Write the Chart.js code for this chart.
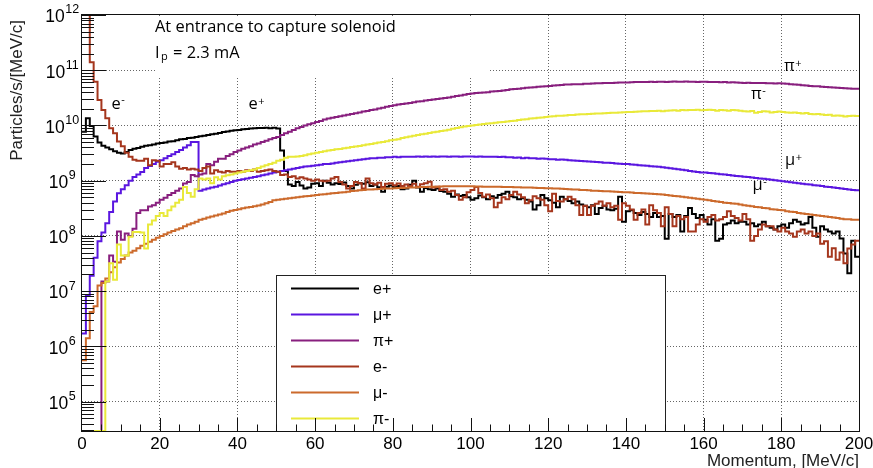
<!DOCTYPE html>
<html>
<head>
<meta charset="utf-8">
<script src="https://cdn.jsdelivr.net/npm/chart.js@4.4.1/dist/chart.umd.min.js"></script>
<style>
  html, body { margin: 0; padding: 0; background: #fff; }
</style>
</head>
<body>
<canvas id="c" width="873" height="468"></canvas>
<script>
// momentum spectra, 1 MeV/c bins from 0 to 200 (bin i covers [i, i+1])
const labels = ['e+', 'μ+', 'π+', 'e-', 'μ-', 'π-'];
const colors = ['#000000', '#5a16e0', '#881f7e', '#a5361d', '#cc6a2c', '#e9e93a'];

const ePlus = [
  7.7e9, 1.35e10, 9.8e9, 6.3e9, 4.9e9, 4.3e9, 4.0e9, 3.7e9, 3.4e9, 3.2e9,
  3.1e9, 3.3e9, 3.6e9, 3.8e9, 3.9e9, 4.1e9, 4.3e9, 4.4e9, 4.5e9, 4.7e9,
  4.8e9, 4.9e9, 5.1e9, 5.2e9, 5.4e9, 5.6e9, 5.7e9, 5.9e9, 6.0e9, 6.2e9,
  6.4e9, 6.5e9, 6.7e9, 6.9e9, 7.1e9, 7.3e9, 7.6e9, 7.8e9, 8.0e9, 8.2e9,
  8.3e9, 8.5e9, 8.6e9, 8.8e9, 8.9e9, 9.0e9, 9.0e9, 9.1e9, 8.9e9, 9.1e9,
  8.8e9, 3.5e9, 1.5e9, 8.5e8, 8.0e8, 9.5e8, 8.2e8, 7.2e8, 7.5e8, 8.8e8,
  9.0e8, 8.0e8, 1.0e9, 9.2e8, 8.5e8, 9.0e8, 8.7e8, 9.3e8, 8.0e8, 7.2e8,
  8.4e8, 9.0e8, 8.8e8, 9.4e8, 8.0e8, 8.5e8, 7.6e8, 6.3e8, 7.8e8, 8.2e8,
  7.6e8, 8.0e8, 7.0e8, 7.2e8, 8.4e8, 1.0e9, 7.5e8, 6.3e8, 7.4e8, 7.0e8,
  6.8e8, 7.2e8, 6.5e8, 6.3e8, 5.8e8, 5.1e8, 5.6e8, 5.3e8, 5.5e8, 5.0e8,
  4.5e8, 4.8e8, 5.4e8, 5.0e8, 4.6e8, 5.2e8, 4.9e8, 5.5e8, 5.8e8, 6.3e8,
  5.2e8, 5.0e8, 4.6e8, 4.8e8, 4.5e8, 4.2e8, 3.0e8, 3.6e8, 5.5e8, 4.8e8,
  4.4e8, 4.0e8, 3.3e8, 5.1e8, 4.6e8, 4.3e8, 3.9e8, 4.2e8, 3.7e8, 3.5e8,
  3.3e8, 3.6e8, 2.5e8, 3.2e8, 3.5e8, 3.0e8, 2.9e8, 3.1e8, 5.1e8, 1.8e8,
  2.8e8, 2.9e8, 2.6e8, 2.4e8, 2.7e8, 2.5e8, 2.2e8, 2.6e8, 2.2e8, 2.3e8,
  8.9e7, 2.5e8, 2.2e8, 2.4e8, 1.2e8, 2.3e8, 3.2e8, 2.5e8, 2.1e8, 2.4e8,
  1.95e8, 1.6e8, 2.0e8, 8.2e7, 8.9e7, 1.6e8, 1.7e8, 1.9e8, 1.7e8, 1.8e8,
  1.8e8, 1.6e8, 1.7e8, 1.5e8, 1.6e8, 1.8e8, 1.5e8, 1.4e8, 1.3e8, 1.5e8,
  1.6e8, 1.4e8, 1.7e8, 1.95e8, 1.8e8, 1.6e8, 1.7e8, 2.2e8, 1.4e8, 9.6e7,
  1.5e8, 1.3e8, 1.2e8, 1.1e8, 1.2e8, 9.0e7, 4.8e7, 2.1e7, 8.2e7, 4.2e7
];

const muPlus = [
  1.7e6, 8.5e6, 1.9e7, 4.0e7, 8.0e7, 1.15e8, 1.7e8, 2.7e8, 4.2e8, 5.9e8,
  7.0e8, 8.3e8, 1.0e9, 1.17e9, 1.3e9, 1.44e9, 1.7e9, 1.85e9, 2.0e9, 2.2e9,
  2.35e9, 2.55e9, 2.8e9, 3.0e9, 3.3e9, 3.6e9, 4.0e9, 4.4e9, 5.0e9, 5.0e9,
  6.6e8, 6.9e8, 7.2e8, 7.5e8, 7.8e8, 8.2e8, 8.6e8, 9.0e8, 9.5e8, 1.0e9,
  1.03e9, 1.06e9, 1.1e9, 1.13e9, 1.17e9, 1.2e9, 1.25e9, 1.3e9, 1.35e9, 1.4e9,
  1.45e9, 1.5e9, 1.55e9, 1.6e9, 1.65e9, 1.7e9, 1.75e9, 1.8e9, 1.83e9, 1.87e9,
  1.9e9, 1.95e9, 2.0e9, 2.0e9, 2.05e9, 2.1e9, 2.15e9, 2.2e9, 2.25e9, 2.3e9,
  2.35e9, 2.4e9, 2.45e9, 2.5e9, 2.55e9, 2.55e9, 2.6e9, 2.6e9, 2.65e9, 2.65e9,
  2.7e9, 2.65e9, 2.7e9, 2.7e9, 2.72e9, 2.7e9, 2.75e9, 2.72e9, 2.75e9, 2.7e9,
  2.75e9, 2.72e9, 2.75e9, 2.75e9, 2.7e9, 2.75e9, 2.75e9, 2.72e9, 2.75e9, 2.75e9,
  2.75e9, 2.72e9, 2.75e9, 2.7e9, 2.72e9, 2.7e9, 2.7e9, 2.68e9, 2.7e9, 2.65e9,
  2.65e9, 2.6e9, 2.62e9, 2.55e9, 2.6e9, 2.55e9, 2.55e9, 2.5e9, 2.52e9, 2.5e9,
  2.45e9, 2.45e9, 2.4e9, 2.42e9, 2.38e9, 2.35e9, 2.32e9, 2.3e9, 2.28e9, 2.25e9,
  2.22e9, 2.2e9, 2.17e9, 2.15e9, 2.12e9, 2.1e9, 2.08e9, 2.05e9, 2.02e9, 2.0e9,
  2.0e9, 1.97e9, 1.94e9, 1.91e9, 1.88e9, 1.86e9, 1.83e9, 1.8e9, 1.78e9, 1.75e9,
  1.72e9, 1.68e9, 1.65e9, 1.61e9, 1.58e9, 1.54e9, 1.5e9, 1.47e9, 1.44e9, 1.41e9,
  1.4e9, 1.38e9, 1.36e9, 1.33e9, 1.31e9, 1.29e9, 1.27e9, 1.24e9, 1.22e9, 1.2e9,
  1.18e9, 1.16e9, 1.14e9, 1.12e9, 1.1e9, 1.08e9, 1.06e9, 1.04e9, 1.02e9, 1.0e9,
  9.8e8, 9.6e8, 9.4e8, 9.2e8, 9.0e8, 8.8e8, 8.6e8, 8.5e8, 8.3e8, 8.2e8,
  8.0e8, 7.8e8, 7.7e8, 7.5e8, 7.4e8, 7.2e8, 7.1e8, 6.9e8, 6.8e8, 6.7e8
];

const piPlus = [
  0, 0, 0, 0, 0, 1.5e7, 1.5e7, 4.4e7, 3.4e7, 1.2e8,
  8.5e7, 1.1e8, 1.0e8, 1.35e8, 2.6e8, 2.9e8, 2.9e8, 3.4e8, 3.6e8, 4.0e8,
  4.5e8, 4.9e8, 5.5e8, 6.0e8, 6.6e8, 7.2e8, 8.9e8, 9.5e8, 1.27e9, 1.2e9,
  1.3e9, 1.35e9, 2.0e9, 1.9e9, 2.2e9, 2.5e9, 2.5e9, 2.8e9, 3.0e9, 3.3e9,
  3.5e9, 3.8e9, 4.0e9, 4.2e9, 4.5e9, 4.7e9, 5.0e9, 5.3e9, 5.6e9, 5.9e9,
  6.2e9, 6.7e9, 7.2e9, 7.7e9, 8.3e9, 8.9e9, 9.4e9, 1.0e10, 1.05e10, 1.1e10,
  1.15e10, 1.2e10, 1.28e10, 1.33e10, 1.38e10, 1.42e10, 1.47e10, 1.52e10, 1.57e10, 1.62e10,
  1.67e10, 1.72e10, 1.78e10, 1.83e10, 1.9e10, 1.95e10, 2.02e10, 2.1e10, 2.17e10, 2.25e10,
  2.32e10, 2.4e10, 2.45e10, 2.5e10, 2.55e10, 2.62e10, 2.7e10, 2.75e10, 2.82e10, 2.88e10,
  2.95e10, 3.0e10, 3.08e10, 3.15e10, 3.2e10, 3.3e10, 3.4e10, 3.5e10, 3.6e10, 3.7e10,
  3.8e10, 3.85e10, 3.9e10, 3.95e10, 4.0e10, 4.1e10, 4.15e10, 4.2e10, 4.3e10, 4.4e10,
  4.5e10, 4.55e10, 4.6e10, 4.7e10, 4.8e10, 4.85e10, 4.9e10, 5.0e10, 5.05e10, 5.1e10,
  5.2e10, 5.3e10, 5.35e10, 5.4e10, 5.5e10, 5.5e10, 5.55e10, 5.6e10, 5.6e10, 5.7e10,
  5.7e10, 5.75e10, 5.8e10, 5.8e10, 5.85e10, 5.9e10, 5.9e10, 5.95e10, 6.0e10, 6.0e10,
  6.0e10, 6.05e10, 6.1e10, 6.1e10, 6.1e10, 6.15e10, 6.2e10, 6.1e10, 6.2e10, 6.2e10,
  6.15e10, 6.2e10, 6.25e10, 6.2e10, 6.2e10, 6.25e10, 6.2e10, 6.2e10, 6.15e10, 6.2e10,
  6.2e10, 6.1e10, 6.15e10, 6.1e10, 6.05e10, 6.1e10, 6.0e10, 6.05e10, 6.0e10, 5.95e10,
  5.9e10, 5.95e10, 5.9e10, 5.85e10, 5.9e10, 5.85e10, 5.8e10, 5.8e10, 5.75e10, 5.8e10,
  5.75e10, 5.7e10, 5.6e10, 5.5e10, 5.45e10, 5.35e10, 5.3e10, 5.2e10, 5.15e10, 5.1e10,
  5.0e10, 4.95e10, 4.9e10, 4.85e10, 4.8e10, 4.75e10, 4.7e10, 4.65e10, 4.6e10, 4.6e10
];

const eMinus = [
  2e12, 2e12, 1.4e11, 6.2e10, 2.9e10, 1.9e10, 1.35e10, 8.9e9, 7.2e9, 5.1e9,
  4.2e9, 3.2e9, 2.7e9, 2.4e9, 2.3e9, 2.3e9, 2.5e9, 1.9e9, 2.35e9, 2.3e9,
  1.8e9, 2.0e9, 2.0e9, 2.15e9, 1.8e9, 1.65e9, 1.7e9, 1.6e9, 1.65e9, 1.6e9,
  1.5e9, 1.7e9, 1.8e9, 1.35e9, 1.55e9, 1.45e9, 1.4e9, 1.5e9, 1.45e9, 1.45e9,
  1.5e9, 1.45e9, 1.55e9, 1.5e9, 1.6e9, 1.45e9, 1.5e9, 1.55e9, 1.6e9, 1.5e9,
  1.45e9, 1.27e9, 1.3e9, 1.17e9, 1.2e9, 1.1e9, 1.15e9, 1.1e9, 1.05e9, 1.0e9,
  1.05e9, 1.0e9, 9.8e8, 1.0e9, 1.1e9, 1.17e9, 9.5e8, 8.5e8, 7.2e8, 8.0e8,
  9.5e8, 9.0e8, 7.2e8, 1.1e9, 9.0e8, 8.5e8, 9.2e8, 7.7e8, 8.8e8, 9.0e8,
  8.3e8, 8.9e8, 8.0e8, 8.5e8, 8.0e8, 8.8e8, 7.8e8, 8.6e8, 9.0e8, 9.6e8,
  7.5e8, 7.8e8, 6.8e8, 7.0e8, 6.3e8, 6.6e8, 5.5e8, 4.5e8, 5.0e8, 6.2e8,
  6.8e8, 7.7e8, 6.0e8, 5.1e8, 5.6e8, 4.8e8, 3.3e8, 4.0e8, 5.0e8, 4.6e8,
  5.5e8, 6.3e8, 5.6e8, 5.0e8, 3.9e8, 4.4e8, 5.2e8, 4.8e8, 4.5e8, 3.6e8,
  2.8e8, 5.8e8, 4.3e8, 4.2e8, 4.6e8, 5.1e8, 4.6e8, 3.6e8, 2.4e8, 3.5e8,
  2.4e8, 3.5e8, 3.8e8, 4.2e8, 3.5e8, 3.9e8, 3.3e8, 3.5e8, 1.95e8, 3.9e8,
  3.5e8, 3.0e8, 1.95e8, 2.6e8, 3.0e8, 1.6e8, 3.6e8, 2.9e8, 2.6e8, 1.5e8,
  3.3e8, 2.5e8, 1.5e8, 2.3e8, 2.0e8, 2.2e8, 1.2e8, 1.2e8, 1.6e8, 2.0e8,
  1.8e8, 2.2e8, 2.4e8, 1.9e8, 2.0e8, 2.2e8, 2.8e8, 2.3e8, 2.1e8, 1.9e8,
  2.5e8, 2.0e8, 8.2e7, 1.0e8, 1.3e8, 1.6e8, 1.5e8, 1.5e8, 1.3e8, 1.2e8,
  1.4e8, 1.2e8, 1.1e8, 9.6e7, 1.2e8, 1.3e8, 1.1e8, 1.2e8, 1.0e8, 1.1e8,
  7.2e7, 8.0e7, 4.2e7, 6.0e7, 3.7e7, 5.0e7, 3.2e7, 5.9e7, 7.0e7, 8.2e7
];

const muMinus = [
  5.6e5, 1.4e6, 4.2e6, 5.3e6, 1.26e7, 1.4e7, 1.7e7, 2.2e7, 2.7e7, 3.3e7,
  3.8e7, 4.4e7, 5.0e7, 5.4e7, 6.0e7, 6.6e7, 7.2e7, 7.8e7, 8.5e7, 9.3e7,
  1.0e8, 1.07e8, 1.15e8, 1.22e8, 1.3e8, 1.38e8, 1.5e8, 1.6e8, 1.7e8, 1.8e8,
  1.95e8, 2.05e8, 2.15e8, 2.25e8, 2.35e8, 2.45e8, 2.55e8, 2.7e8, 2.85e8, 2.95e8,
  3.05e8, 3.15e8, 3.25e8, 3.35e8, 3.45e8, 3.55e8, 3.7e8, 3.9e8, 4.1e8, 4.4e8,
  4.5e8, 4.6e8, 4.7e8, 4.8e8, 4.9e8, 5.0e8, 5.1e8, 5.2e8, 5.3e8, 5.4e8,
  5.5e8, 5.6e8, 5.7e8, 5.8e8, 5.9e8, 6.0e8, 6.1e8, 6.2e8, 6.3e8, 6.5e8,
  6.6e8, 6.7e8, 6.8e8, 6.9e8, 6.95e8, 7.0e8, 7.1e8, 7.15e8, 7.2e8, 7.25e8,
  7.3e8, 7.35e8, 7.4e8, 7.45e8, 7.5e8, 7.55e8, 7.6e8, 7.65e8, 7.7e8, 7.75e8,
  7.8e8, 7.8e8, 7.85e8, 7.9e8, 7.9e8, 7.9e8, 7.95e8, 7.9e8, 7.9e8, 7.9e8,
  7.9e8, 7.85e8, 7.85e8, 7.8e8, 7.8e8, 7.8e8, 7.75e8, 7.75e8, 7.7e8, 7.7e8,
  7.65e8, 7.6e8, 7.6e8, 7.55e8, 7.5e8, 7.5e8, 7.45e8, 7.4e8, 7.35e8, 7.3e8,
  7.3e8, 7.25e8, 7.2e8, 7.15e8, 7.1e8, 7.0e8, 6.95e8, 6.9e8, 6.8e8, 6.75e8,
  6.7e8, 6.6e8, 6.55e8, 6.5e8, 6.45e8, 6.4e8, 6.35e8, 6.3e8, 6.25e8, 6.2e8,
  6.15e8, 6.1e8, 6.0e8, 5.95e8, 5.9e8, 5.85e8, 5.8e8, 5.75e8, 5.7e8, 5.6e8,
  5.5e8, 5.4e8, 5.3e8, 5.2e8, 5.1e8, 5.0e8, 4.9e8, 4.8e8, 4.7e8, 4.6e8,
  4.5e8, 4.4e8, 4.3e8, 4.2e8, 4.1e8, 4.0e8, 3.95e8, 3.85e8, 3.8e8, 3.7e8,
  3.6e8, 3.5e8, 3.45e8, 3.35e8, 3.3e8, 3.2e8, 3.15e8, 3.05e8, 3.0e8, 2.95e8,
  2.9e8, 2.8e8, 2.75e8, 2.7e8, 2.6e8, 2.55e8, 2.5e8, 2.45e8, 2.4e8, 2.35e8,
  2.3e8, 2.25e8, 2.2e8, 2.15e8, 2.1e8, 2.05e8, 2.0e8, 2.0e8, 1.95e8, 1.95e8
];

const piMinus = [
  0, 0, 0, 0, 0, 0, 1.5e7, 3.2e7, 1.6e7, 7.0e7,
  4.4e7, 4.4e7, 9.6e7, 1.18e8, 1.18e8, 1.15e8, 5.9e7, 1.6e8, 1.9e8, 2.3e8,
  2.6e8, 2.3e8, 2.9e8, 3.4e8, 4.0e8, 4.5e8, 7.7e8, 6.0e8, 5.1e8, 7.0e8,
  1.1e9, 1.05e9, 1.1e9, 9.0e8, 1.15e9, 1.05e9, 1.2e9, 1.25e9, 1.3e9, 1.35e9,
  1.4e9, 1.45e9, 1.5e9, 1.55e9, 1.6e9, 1.7e9, 1.8e9, 1.9e9, 2.0e9, 2.1e9,
  2.3e9, 2.4e9, 2.6e9, 2.7e9, 2.7e9, 2.75e9, 2.8e9, 2.9e9, 3.0e9, 3.1e9,
  3.2e9, 3.3e9, 3.4e9, 3.5e9, 3.6e9, 3.7e9, 3.75e9, 3.85e9, 3.95e9, 4.05e9,
  4.15e9, 4.25e9, 4.4e9, 4.5e9, 4.6e9, 4.75e9, 4.9e9, 5.0e9, 5.2e9, 5.4e9,
  5.5e9, 5.6e9, 5.9e9, 6.1e9, 6.3e9, 6.5e9, 6.7e9, 6.9e9, 7.1e9, 7.3e9,
  7.5e9, 7.7e9, 7.9e9, 8.1e9, 8.4e9, 8.7e9, 9.0e9, 9.3e9, 9.6e9, 9.8e9,
  1.0e10, 1.02e10, 1.04e10, 1.06e10, 1.08e10, 1.1e10, 1.12e10, 1.14e10, 1.16e10, 1.18e10,
  1.2e10, 1.22e10, 1.25e10, 1.28e10, 1.3e10, 1.33e10, 1.35e10, 1.38e10, 1.4e10, 1.42e10,
  1.45e10, 1.47e10, 1.5e10, 1.5e10, 1.52e10, 1.55e10, 1.55e10, 1.58e10, 1.6e10, 1.6e10,
  1.62e10, 1.63e10, 1.65e10, 1.65e10, 1.67e10, 1.68e10, 1.7e10, 1.7e10, 1.72e10, 1.73e10,
  1.75e10, 1.75e10, 1.77e10, 1.78e10, 1.8e10, 1.8e10, 1.82e10, 1.83e10, 1.85e10, 1.8e10,
  1.85e10, 1.87e10, 1.88e10, 1.85e10, 1.9e10, 1.88e10, 1.9e10, 1.9e10, 1.92e10, 1.88e10,
  1.9e10, 1.92e10, 1.9e10, 1.85e10, 1.9e10, 1.88e10, 1.85e10, 1.9e10, 1.88e10, 1.85e10,
  1.8e10, 1.78e10, 1.82e10, 1.7e10, 1.75e10, 1.8e10, 1.78e10, 1.72e10, 1.75e10, 1.78e10,
  1.75e10, 1.72e10, 1.7e10, 1.72e10, 1.68e10, 1.65e10, 1.68e10, 1.62e10, 1.6e10, 1.62e10,
  1.58e10, 1.55e10, 1.57e10, 1.5e10, 1.52e10, 1.5e10, 1.45e10, 1.48e10, 1.5e10, 1.48e10
];

const xTickValues = [0, 20, 40, 60, 80, 100, 120, 140, 160, 180, 200];
const yTickExponents = [5, 6, 7, 8, 9, 10, 11, 12];
const yMin = 2.93e4;
const yMax = 1e12;

const series = [ePlus, muPlus, piPlus, eMinus, muMinus, piMinus];

// bin edges: each bin drawn flat from i to i+1, empty bins sit on the axis floor
function histPoints(values) {
  const pts = values.map((v, i) => ({ x: i, y: v > 0 ? v : yMin }));
  pts.push({ x: values.length, y: pts[pts.length - 1].y });
  return pts;
}

const AXIS_FONT = '"Liberation Sans", Arial, sans-serif';
const NOTE_FONT = '"Open Sans", "Noto Sans", sans-serif';

function supText(ctx, base, sup, x, y, size, dy) {
  ctx.font = size + 'px ' + NOTE_FONT;
  ctx.fillText(base, x, y);
  const w = ctx.measureText(base).width;
  ctx.font = '11px ' + NOTE_FONT;
  ctx.fillText(sup, x + w + 0.5, y + dy);
}

const decor = {
  id: 'decor',
  beforeDatasetsDraw(chart) {
    // white text pave over the grid
    const ctx = chart.ctx;
    ctx.save();
    ctx.fillStyle = '#fff';
    ctx.fillRect(155, 16, 335, 62);
    ctx.restore();
  },
  afterDatasetsDraw(chart) {
    const ctx = chart.ctx;
    const a = chart.chartArea;
    const xs = chart.scales.x, ys = chart.scales.y;
    ctx.save();

    // legend box
    ctx.fillStyle = '#fff';
    ctx.fillRect(276, 275, 389, a.bottom - 275);
    ctx.strokeStyle = '#222';
    ctx.lineWidth = 1;
    ctx.strokeRect(276.5, 275.5, 389, a.bottom - 275);
    ctx.font = '16px ' + AXIS_FONT;
    ctx.textBaseline = 'middle';
    ctx.textAlign = 'left';
    chart.data.datasets.forEach((ds, i) => {
      const y = 288.5 + i * 26;
      ctx.strokeStyle = ds.borderColor;
      ctx.lineWidth = 2;
      ctx.beginPath();
      ctx.moveTo(291, y);
      ctx.lineTo(359, y);
      ctx.stroke();
      ctx.fillStyle = '#000';
      ctx.fillText(ds.label, 373, y + 1);
    });

    // frame
    ctx.strokeStyle = '#111';
    ctx.lineWidth = 1;
    ctx.strokeRect(a.left - 0.5, a.top - 0.5, a.right - a.left + 1, a.bottom - a.top + 1);

    // y ticks (inside)
    ctx.beginPath();
    for (let e = 4; e <= 12; e++) {
      for (let m = 1; m <= 9; m++) {
        const v = m * Math.pow(10, e);
        if (v < yMin || v > yMax * 1.0001) continue;
        const y = Math.round(ys.getPixelForValue(v)) + 0.5;
        const len = m === 1 ? 24 : 12;
        ctx.moveTo(a.left, y);
        ctx.lineTo(a.left + len, y);
      }
    }
    // x ticks (inside)
    for (let v = 5; v < 200; v += 5) {
      const x = Math.round(xs.getPixelForValue(v)) + 0.5;
      const len = v % 20 === 0 ? 13 : 6.5;
      ctx.moveTo(x, a.bottom);
      ctx.lineTo(x, a.bottom - len);
    }
    ctx.stroke();
    ctx.restore();
  },
  afterDraw(chart) {
    const ctx = chart.ctx;
    const a = chart.chartArea;
    const xs = chart.scales.x, ys = chart.scales.y;
    ctx.save();
    ctx.fillStyle = '#000';

    // x tick labels
    ctx.font = '17px ' + AXIS_FONT;
    ctx.textAlign = 'center';
    ctx.textBaseline = 'middle';
    xTickValues.forEach(v => {
      ctx.fillText(String(v), xs.getPixelForValue(v), 444);
    });

    // y tick labels: 10 with exponent, centred at x = 62
    yTickExponents.forEach(e => {
      const y = ys.getPixelForValue(Math.pow(10, e));
      ctx.font = '17.5px ' + AXIS_FONT;
      const w10 = ctx.measureText('10').width;
      ctx.font = '12.5px ' + AXIS_FONT;
      const wE = ctx.measureText(String(e)).width;
      const x0 = 62 - (w10 + wE) / 2;
      ctx.textAlign = 'left';
      ctx.font = '17.5px ' + AXIS_FONT;
      ctx.fillText('10', x0, y + 2.5);
      ctx.font = '12.5px ' + AXIS_FONT;
      ctx.fillText(String(e), x0 + w10 + 0.5, y - 5);
    });

    // axis titles
    ctx.fillStyle = '#222';
    ctx.font = '17px ' + AXIS_FONT;
    ctx.textAlign = 'right';
    ctx.fillText('Momentum, [MeV/c]', a.right, 461);
    ctx.save();
    ctx.translate(17.5, 20);
    ctx.rotate(-Math.PI / 2);
    ctx.textAlign = 'right';
    ctx.textBaseline = 'middle';
    ctx.fillText('Particles/s/[MeV/c]', 0, 0);
    ctx.restore();

    // text pave
    ctx.fillStyle = '#000';
    ctx.textAlign = 'left';
    ctx.textBaseline = 'alphabetic';
    ctx.font = '16.4px ' + NOTE_FONT;
    ctx.fillText('At entrance to capture solenoid', 155, 32);
    ctx.fillText('I', 155, 57.5);
    const wI = ctx.measureText('I').width;
    ctx.font = '11px ' + NOTE_FONT;
    ctx.fillText('p', 155 + wI + 1.5, 60);
    const wp = ctx.measureText('p').width;
    ctx.font = '16.4px ' + NOTE_FONT;
    ctx.fillText(' = 2.3 mA', 155 + wI + 1.5 + wp + 1, 57.5);

    // curve labels
    supText(ctx, 'e', '-', 111.5, 108.5, 16.4, -5.5);
    supText(ctx, 'e', '+', 248.5, 108.5, 16.4, -4);
    supText(ctx, 'π', '+', 784, 70.5, 16.4, -4);
    supText(ctx, 'π', '-', 751, 99.3, 16.4, -5.5);
    supText(ctx, 'μ', '+', 785, 165, 16.4, -4);
    supText(ctx, 'μ', '-', 752.5, 190, 16.4, -5.5);

    ctx.restore();
  }
};

new Chart(document.getElementById('c'), {
  type: 'line',
  data: {
    datasets: series.map((vals, i) => ({
      label: labels[i],
      data: histPoints(vals),
      borderColor: colors[i],
      backgroundColor: colors[i],
      borderWidth: 2,
      stepped: 'before',
      pointRadius: 0,
      fill: false,
      order: series.length - i
    }))
  },
  options: {
    responsive: false,
    devicePixelRatio: 1,
    animation: false,
    events: [],
    layout: { padding: { left: 0, right: 14, top: 15, bottom: 0 } },
    plugins: { legend: { display: false }, tooltip: { enabled: false } },
    scales: {
      x: {
        type: 'linear',
        min: 0,
        max: 200,
        ticks: { display: false, stepSize: 20 },
        grid: {
          drawTicks: false,
          lineWidth: 1,
          color: c => (c.tick && (c.tick.value === 0 || c.tick.value === 200)) ? 'rgba(0,0,0,0)' : '#666'
        },
        border: { display: false, dash: [1, 2] },
        afterFit: s => { s.height = 37; }
      },
      y: {
        type: 'logarithmic',
        min: yMin,
        max: yMax,
        afterBuildTicks: s => { s.ticks = yTickExponents.map(e => ({ value: Math.pow(10, e) })); },
        ticks: { display: false },
        grid: {
          drawTicks: false,
          lineWidth: 1,
          color: c => (c.tick && c.tick.value >= yMax) ? 'rgba(0,0,0,0)' : '#666'
        },
        border: { display: false, dash: [1, 2] },
        afterFit: s => { s.width = 82; }
      }
    }
  },
  plugins: [decor]
});
</script>
</body>
</html>
